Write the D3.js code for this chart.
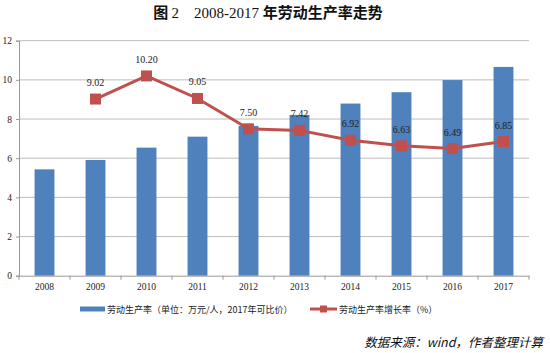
<!DOCTYPE html>
<html><head><meta charset="utf-8">
<script src="https://cdn.jsdelivr.net/npm/d3@7"></script>
<style>body{margin:0;background:#fff}svg{display:block}</style>
</head><body><svg id="c" width="550" height="353"></svg>
<script>
const years = ["2008","2009","2010","2011","2012","2013","2014","2015","2016","2017"];
const productivity = [5.43, 5.91, 6.54, 7.10, 7.65, 8.21, 8.79, 9.37, 9.99, 10.66];
const growthYears = ["2009","2010","2011","2012","2013","2014","2015","2016","2017"];
const growth = [9.02, 10.20, 9.05, 7.50, 7.42, 6.92, 6.63, 6.49, 6.85];
const yTicks = [0, 2, 4, 6, 8, 10, 12];

const svg = d3.select("#c");
const serif = "'Liberation Serif','Noto Sans CJK SC',serif";
const cjk = "'Noto Sans CJK SC',sans-serif";
const L = 19, R = 529, T = 40.7, B = 275.7;
const x = d3.scaleBand().domain(years).range([L, R]).paddingInner(0.61).paddingOuter(0.305);
const xb = d3.scaleBand().domain(years).range([L, R]);
const y = d3.scaleLinear().domain([0, 12]).range([B, T]);

// title
const t = svg.append("text").attr("x", 268).attr("y", 18).attr("text-anchor", "middle")
  .attr("font-size", 15).attr("fill", "#111");
t.append("tspan").attr("font-family", cjk).attr("font-weight", "bold").text("图 ");
t.append("tspan").attr("font-family", serif).text("2　2008-2017 ");
t.append("tspan").attr("font-family", cjk).attr("font-weight", "bold").text("年劳动生产率走势");

// grid
svg.append("g").selectAll("line").data(yTicks.filter(d => d > 0)).join("line")
  .attr("x1", L).attr("x2", R).attr("y1", d => y(d)).attr("y2", d => y(d))
  .attr("stroke", "#bdbdbd").attr("stroke-width", 1);

// y axis
const ya = svg.append("g").attr("transform", `translate(${L},0)`)
  .call(d3.axisLeft(y).tickValues(yTicks).tickSize(3).tickPadding(4));
ya.select(".domain").attr("stroke", "#999");
ya.selectAll(".tick line").attr("stroke", "#999");
ya.selectAll("text").attr("font-family", serif).attr("font-size", 9.5).attr("fill", "#222");

// bars
svg.append("g").selectAll("rect").data(years).join("rect")
  .attr("x", d => x(d)).attr("width", x.bandwidth())
  .attr("y", (d, i) => y(productivity[i])).attr("height", (d, i) => B - y(productivity[i]))
  .attr("fill", "#4F81BD");

// x axis
const xa = svg.append("g").attr("transform", `translate(0,${B})`)
  .call(d3.axisBottom(xb).tickSize(0).tickPadding(8));
xa.select(".domain").attr("stroke", "#999");
xa.selectAll("text").attr("font-family", serif).attr("font-size", 9.5).attr("fill", "#222");
svg.append("g").selectAll("line").data(years.concat(["end"])).join("line")
  .attr("x1", (d, i) => L + i * xb.step()).attr("x2", (d, i) => L + i * xb.step())
  .attr("y1", B).attr("y2", B + 4).attr("stroke", "#999");

// line
const cx = d => xb(d) + xb.bandwidth() / 2;
const line = d3.line().x((d, i) => cx(growthYears[i])).y(d => y(d));
svg.append("path").datum(growth).attr("d", line).attr("fill", "none")
  .attr("stroke", "#C0504D").attr("stroke-width", 3);
svg.append("g").selectAll("rect").data(growth).join("rect")
  .attr("x", (d, i) => cx(growthYears[i]) - 5.5).attr("y", d => y(d) - 5.5)
  .attr("width", 11).attr("height", 11).attr("fill", "#C0504D");
svg.append("g").selectAll("text").data(growth).join("text")
  .attr("x", (d, i) => cx(growthYears[i])).attr("y", d => y(d) - 13)
  .attr("text-anchor", "middle").attr("font-family", serif).attr("font-size", 10)
  .attr("fill", "#222").text(d => d.toFixed(2));

// legend
const lg = svg.append("g");
lg.append("rect").attr("x", 80).attr("y", 306.5).attr("width", 25).attr("height", 5).attr("fill", "#4F81BD");
lg.append("text").attr("x", 107).attr("y", 312.5).attr("font-family", cjk).attr("font-size", 9)
  .attr("fill", "#222").text("劳动生产率（单位：万元/人，2017年可比价）");
lg.append("line").attr("x1", 310).attr("x2", 337).attr("y1", 309).attr("y2", 309)
  .attr("stroke", "#C0504D").attr("stroke-width", 3);
lg.append("rect").attr("x", 320).attr("y", 305.5).attr("width", 7).attr("height", 7).attr("fill", "#C0504D");
lg.append("text").attr("x", 339).attr("y", 312.5).attr("font-family", cjk).attr("font-size", 9)
  .attr("fill", "#222").text("劳动生产率增长率（%）");

// source
svg.append("text").attr("x", 543).attr("y", 347).attr("text-anchor", "end")
  .attr("font-family", cjk).attr("font-style", "italic").attr("font-size", 12.5)
  .attr("fill", "#111").text("数据来源：wind，作者整理计算");
</script></body></html>
